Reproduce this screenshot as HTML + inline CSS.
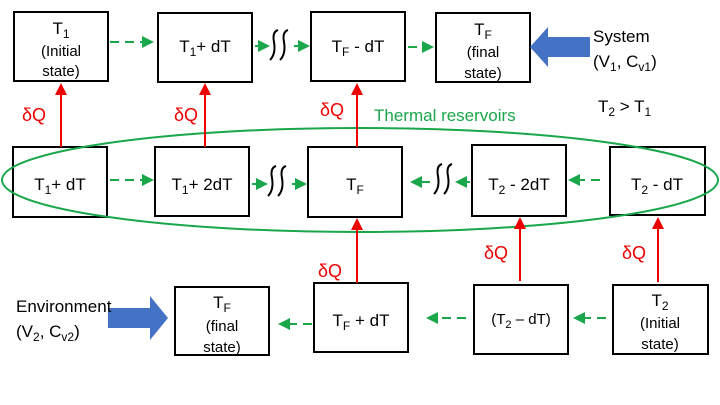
<!DOCTYPE html>
<html><head><meta charset="utf-8"><style>
body{margin:0;background:#fff}
svg{display:block;font-family:"Liberation Sans",sans-serif}
</style></head><body>
<svg width="720" height="405" viewBox="0 0 720 405">
<defs>
<marker id="g" markerWidth="6" markerHeight="6" refX="5" refY="3" orient="auto"><path d="M0,0 L6,3 L0,6z" fill="#1aa64a"/></marker>
<marker id="r" markerWidth="6" markerHeight="6" refX="5" refY="3" orient="auto"><path d="M0,0 L6,3 L0,6z" fill="#e00"/></marker>
</defs>
<g fill="none" stroke="#000" stroke-width="2">
<rect x="14" y="12" width="94" height="69"/>
<rect x="158" y="13" width="94" height="69"/>
<rect x="311" y="12" width="94" height="69"/>
<rect x="436" y="13" width="94" height="69"/>
<rect x="13" y="147" width="94" height="70"/>
<rect x="155" y="147" width="94" height="69"/>
<rect x="308" y="147" width="94" height="70"/>
<rect x="472" y="145" width="94" height="71"/>
<rect x="610" y="147" width="95" height="68"/>
<rect x="175" y="287" width="94" height="68"/>
<rect x="314" y="283" width="94" height="69"/>
<rect x="474" y="285" width="94" height="69"/>
<rect x="613" y="285" width="95" height="69"/>
</g>
<ellipse cx="360" cy="180" rx="358" ry="52" fill="none" stroke="#1aa64a" stroke-width="2"/>
<g stroke="#1aa64a" stroke-width="2" fill="none">
<line x1="110" y1="42" x2="152" y2="42" stroke-dasharray="9,6" marker-end="url(#g)"/>
<line x1="255" y1="46" x2="268" y2="46" marker-end="url(#g)"/>
<line x1="294" y1="46" x2="308" y2="46" marker-end="url(#g)"/>
<line x1="408" y1="47" x2="432" y2="47" stroke-dasharray="9,6" marker-end="url(#g)"/>
<line x1="110" y1="180" x2="152" y2="180" stroke-dasharray="9,6" marker-end="url(#g)"/>
<line x1="252" y1="184" x2="266" y2="184" marker-end="url(#g)"/>
<line x1="292" y1="184" x2="305" y2="184" marker-end="url(#g)"/>
<line x1="470" y1="182" x2="457" y2="182" marker-end="url(#g)"/>
<line x1="430" y1="182" x2="412" y2="182" marker-end="url(#g)"/>
<line x1="600" y1="180" x2="570" y2="180" stroke-dasharray="9,6" marker-end="url(#g)"/>
<line x1="312" y1="324" x2="280" y2="324" stroke-dasharray="9,6" marker-end="url(#g)"/>
<line x1="466" y1="318" x2="428" y2="318" stroke-dasharray="9,6" marker-end="url(#g)"/>
<line x1="606" y1="318" x2="575" y2="318" stroke-dasharray="9,6" marker-end="url(#g)"/>
</g>
<g stroke="#000" stroke-width="2" fill="none">
<path d="M278,30 Q272,32 274,42 Q276,54 270,60 M288,30 Q282,32 284,42 Q286,54 280,60"/>
<path d="M276,166 Q270,168 272,178 Q274,190 268,196 M286,166 Q280,168 282,178 Q284,190 278,196"/>
<path d="M442,164 Q436,166 438,176 Q440,188 434,194 M452,164 Q446,166 448,176 Q450,188 444,194"/>
</g>
<g stroke="#e00" stroke-width="2">
<line x1="61" y1="147" x2="61" y2="85" marker-end="url(#r)"/>
<line x1="205" y1="147" x2="205" y2="85" marker-end="url(#r)"/>
<line x1="357" y1="147" x2="357" y2="85" marker-end="url(#r)"/>
<line x1="357" y1="283" x2="357" y2="220" marker-end="url(#r)"/>
<line x1="520" y1="281" x2="520" y2="219" marker-end="url(#r)"/>
<line x1="658" y1="282" x2="658" y2="219" marker-end="url(#r)"/>
</g>
<g fill="#e00" font-size="18">
<text x="22" y="121">δQ</text><text x="174" y="121">δQ</text><text x="320" y="116">δQ</text>
<text x="236" y="277" dx="82">δQ</text><text x="484" y="259">δQ</text><text x="622" y="259">δQ</text>
</g>
<path d="M590,37 L548,37 L548,27 L530,47 L548,67 L548,57 L590,57z" fill="#4472c4"/>
<path d="M108,308 L150,308 L150,296 L168,318 L150,340 L150,328 L108,328z" fill="#4472c4"/>
<text x="374" y="121" fill="#1aa64a" font-size="17">Thermal reservoirs</text>
<g font-size="17" fill="#000" text-anchor="middle">
<text x="61" y="34">T<tspan font-size="12" dy="4">1</tspan></text>
<text x="61" y="56" font-size="15">(Initial</text><text x="61" y="76" font-size="15">state)</text>
<text x="205" y="52">T<tspan font-size="12" dy="4">1</tspan><tspan dy="-4">+ dT</tspan></text>
<text x="358" y="52">T<tspan font-size="12" dy="4">F</tspan><tspan dy="-4"> - dT</tspan></text>
<text x="483" y="35">T<tspan font-size="12" dy="4">F</tspan></text>
<text x="483" y="57" font-size="15">(final</text><text x="483" y="78" font-size="15">state)</text>
<text x="60" y="190">T<tspan font-size="12" dy="4">1</tspan><tspan dy="-4">+ dT</tspan></text>
<text x="202" y="190">T<tspan font-size="12" dy="4">1</tspan><tspan dy="-4">+ 2dT</tspan></text>
<text x="355" y="190">T<tspan font-size="12" dy="4">F</tspan></text>
<text x="519" y="190">T<tspan font-size="12" dy="4">2</tspan><tspan dy="-4"> - 2dT</tspan></text>
<text x="657" y="190">T<tspan font-size="12" dy="4">2</tspan><tspan dy="-4"> - dT</tspan></text>
<text x="222" y="308">T<tspan font-size="12" dy="4">F</tspan></text>
<text x="222" y="331" font-size="15">(final</text><text x="222" y="352" font-size="15">state)</text>
<text x="361" y="326">T<tspan font-size="12" dy="4">F</tspan><tspan dy="-4"> + dT</tspan></text>
<text x="521" y="324" font-size="15">(T<tspan font-size="11" dy="4">2</tspan><tspan dy="-4"> – dT)</tspan></text>
<text x="660" y="306">T<tspan font-size="12" dy="4">2</tspan></text>
<text x="660" y="328" font-size="15">(Initial</text><text x="660" y="349" font-size="15">state)</text>
</g>
<g font-size="17" fill="#000">
<text x="593" y="42">System</text>
<text x="593" y="67">(V<tspan font-size="12" dy="4">1</tspan><tspan dy="-4">, C</tspan><tspan font-size="12" dy="4">v1</tspan><tspan dy="-4">)</tspan></text>
<text x="598" y="112">T<tspan font-size="12" dy="4">2</tspan><tspan dy="-4"> &gt; T</tspan><tspan font-size="12" dy="4">1</tspan></text>
<text x="16" y="312">Environment</text>
<text x="16" y="337">(V<tspan font-size="12" dy="4">2</tspan><tspan dy="-4">, C</tspan><tspan font-size="12" dy="4">v2</tspan><tspan dy="-4">)</tspan></text>
</g>
</svg>
</body></html>
